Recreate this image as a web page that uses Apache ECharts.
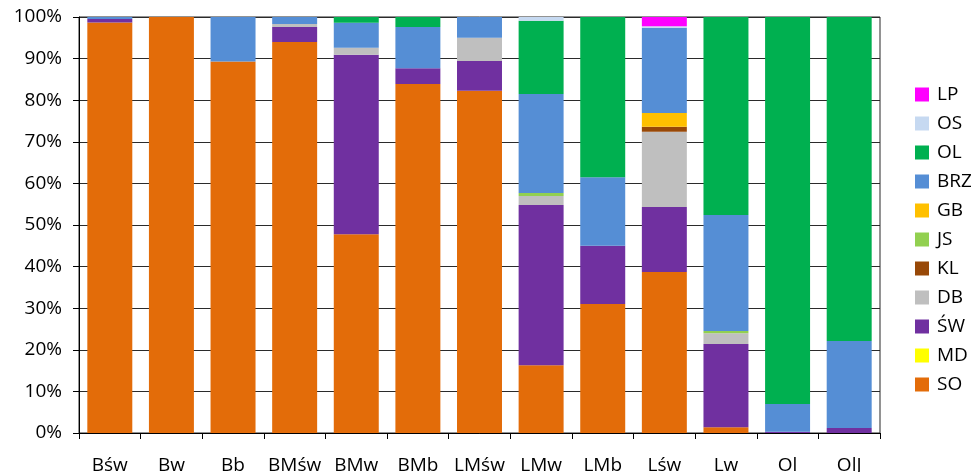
<!DOCTYPE html>
<html>
<head>
<meta charset="utf-8">
<script src="https://cdn.jsdelivr.net/npm/echarts@6/dist/echarts.min.js"></script>
<style>
  html, body { margin: 0; padding: 0; background: #fff; }
  #chart { width: 971px; height: 472px; }
</style>
</head>
<body>
<div id="chart"></div>
<script>
// Stand categories along the x axis
const categories = ['Bśw', 'Bw', 'Bb', 'BMśw', 'BMw', 'BMb', 'LMśw', 'LMw', 'LMb', 'Lśw', 'Lw', 'Ol', 'OlJ'];

// Share (%) of each type per category, stacked bottom to top
const SO  = [98.7, 100, 89.3, 94.0, 47.8, 83.9, 82.3, 16.3, 31.0, 38.7, 1.4, 0, 0];
const MD  = [0, 0, 0, 0, 0, 0, 0, 0, 0, 0, 0, 0, 0];
const SW  = [0.8, 0, 0, 3.6, 43.1, 3.8, 7.1, 38.5, 14.0, 15.6, 20.0, 0.3, 1.2];
const DB  = [0, 0, 0, 0.7, 1.7, 0, 5.6, 2.2, 0, 18.1, 2.6, 0, 0];
const KL  = [0, 0, 0, 0, 0, 0, 0, 0, 0, 1.2, 0, 0, 0];
const JS  = [0, 0, 0, 0, 0, 0, 0, 0.7, 0, 0, 0.5, 0, 0];
const GB  = [0, 0, 0, 0, 0, 0, 0, 0, 0, 3.3, 0, 0, 0];
const BRZ = [0.5, 0, 10.7, 1.7, 6.0, 9.9, 5.0, 23.8, 16.5, 20.5, 27.9, 6.7, 20.9];
const OL  = [0, 0, 0, 0, 1.4, 2.4, 0, 17.6, 38.5, 0, 47.6, 93.0, 77.9];
const OS  = [0, 0, 0, 0, 0, 0, 0, 0.9, 0, 0.4, 0, 0, 0];
const LP  = [0, 0, 0, 0, 0, 0, 0, 0, 0, 2.2, 0, 0, 0];

// Axis ticks
const yTicks = [0, 10, 20, 30, 40, 50, 60, 70, 80, 90, 100];

const seriesDefs = [
  { name: 'SO',  data: SO,  color: '#E36C09' },
  { name: 'MD',  data: MD,  color: '#FFFF00' },
  { name: 'ŚW',  data: SW,  color: '#7030A0' },
  { name: 'DB',  data: DB,  color: '#BFBFBF' },
  { name: 'KL',  data: KL,  color: '#984807' },
  { name: 'JS',  data: JS,  color: '#92D050' },
  { name: 'GB',  data: GB,  color: '#FFC000' },
  { name: 'BRZ', data: BRZ, color: '#558ED5' },
  { name: 'OL',  data: OL,  color: '#00B050' },
  { name: 'OS',  data: OS,  color: '#C6D9F1' },
  { name: 'LP',  data: LP,  color: '#FF00FF' }
];

const font = '"Open Sans", "Noto Sans", sans-serif';
const chart = echarts.init(document.getElementById('chart'), null, { renderer: 'canvas' });

chart.setOption({
  animation: false,
  backgroundColor: '#ffffff',
  grid: {
    left: 79, right: 91, top: 17, bottom: 39,
    containLabel: false,
    outerBoundsMode: 'none',
    show: true, borderColor: '#262626', borderWidth: 1, backgroundColor: 'transparent'
  },
  legend: {
    orient: 'vertical',
    left: 915,
    top: 85,
    padding: 0,
    itemWidth: 14,
    itemHeight: 14,
    itemGap: 10,
    icon: 'rect',
    data: seriesDefs.map(s => s.name).reverse(),
    textStyle: { fontFamily: font, fontSize: 19, color: '#000', padding: [0, 0, 0, 3] }
  },
  xAxis: {
    type: 'category',
    data: categories,
    axisLine: { lineStyle: { color: '#000', width: 1 } },
    axisTick: { show: true, length: 6, lineStyle: { color: '#000' } },
    axisLabel: { fontFamily: font, fontSize: 19, color: '#000', margin: 23, interval: 0 }
  },
  yAxis: {
    type: 'value',
    min: yTicks[0],
    max: yTicks[yTicks.length - 1],
    interval: 10,
    axisLine: { show: true, lineStyle: { color: '#000', width: 1 } },
    axisTick: { show: true, length: 6, lineStyle: { color: '#000' } },
    axisLabel: { fontFamily: font, fontSize: 19, color: '#000', margin: 17, formatter: '{value}%' },
    splitLine: { show: true, lineStyle: { color: '#2b2b2b', width: 1 } }
  },
  series: seriesDefs.map(s => ({
    name: s.name,
    type: 'bar',
    stack: 'total',
    data: s.data,
    barCategoryGap: '27%',
    itemStyle: { color: s.color },
    emphasis: { disabled: true }
  }))
});
</script>
</body>
</html>
